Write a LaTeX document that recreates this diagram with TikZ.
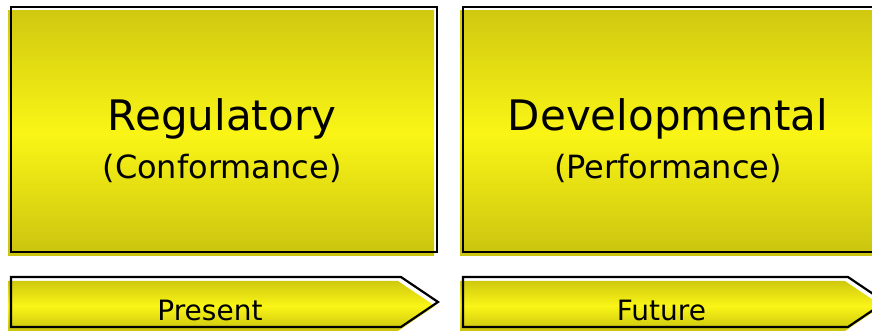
\documentclass[tikz,border=0pt]{standalone}
\usepackage{fontspec}
\usepackage{xcolor}
\usepackage{tikz}
\usetikzlibrary{positioning}
\usetikzlibrary{shadows}
\usetikzlibrary{shapes.symbols}

\newfontfamily\labelfont{DejaVu Sans}
\definecolor{olivetop}{RGB}{208,201,16}
\definecolor{brightyel}{RGB}{250,245,22}

\begin{document}
\begin{tikzpicture}
 [x=1pt, y=1pt,
  node distance=26pt,
  goldfill/.style={top color=olivetop, bottom color=olivetop!97!black, middle color=brightyel},
  card/.style={rectangle, draw=black, line width=2.2pt, inner sep=0pt, outer sep=0pt,
               minimum height=245pt,
               general shadow={shadow xshift=-3pt, shadow yshift=-4pt, goldfill, draw=none}},
  timeline/.style={signal, signal to=east, signal pointer angle=68, draw=black,
               line width=2.2pt, inner sep=0pt, outer sep=0pt, minimum height=50pt,
               general shadow={shadow xshift=-3pt, shadow yshift=-4pt, goldfill, draw=none}},
  cardtext/.style={align=center, font=\labelfont\fontsize{42}{48}\selectfont},
  steptext/.style={font=\labelfont\fontsize{28}{30}\selectfont}]
 \useasboundingbox (0,0) rectangle (872,331);

 \node[card, minimum width=426pt] (regulatory) at (224,201.5) {};
 \node[card, minimum width=412pt] (developmental) [right=of regulatory.east, anchor=west] {};
 \node[timeline, minimum width=427pt] (present) [below=25pt of regulatory.south west, anchor=north west] {};
 \node[timeline, minimum width=422pt] (future) [below=25pt of developmental.south west, anchor=north west] {};

 % captions
 \node[cardtext] (regtext) at ([xshift=-2pt, yshift=-11pt]regulatory.center)
  {Regulatory\\{\fontsize{32}{48}\selectfont (Conformance)}};
 \node[cardtext] (devtext) at ([xshift=-1pt, yshift=-11pt]developmental.center)
  {Developmental\\{\fontsize{32}{48}\selectfont (Performance)}};
 \node[steptext] (presenttext) at ([xshift=4pt, yshift=-8pt]present.center) {Present};
 \node[steptext] (futuretext) at ([xshift=6pt, yshift=-8pt]future.center) {Future};
\end{tikzpicture}
\end{document}
